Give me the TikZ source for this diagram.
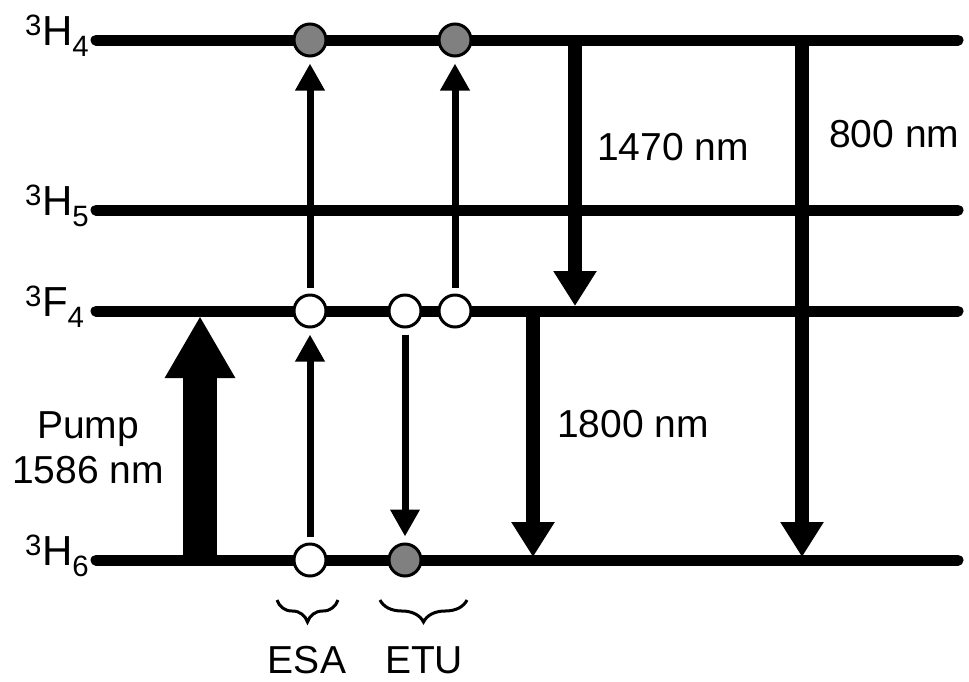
\documentclass[tikz,border=0pt]{standalone}
\usepackage{fontspec}
\setmainfont{Liberation Sans}
\usetikzlibrary{arrows.meta, positioning, decorations.pathreplacing}
\definecolor{popgray}{RGB}{128,128,128}
\tikzset{
  level/.style={line width=11pt, line cap=round},
  lvlname/.style={anchor=base west, inner sep=0pt, font=\fontsize{42}{46}\selectfont},
  lbl/.style={anchor=base west, inner sep=0pt, font=\fontsize{39}{45}\selectfont},
  ion/.style={circle, draw, line width=3pt, fill=white, minimum size=32pt, inner sep=0pt},
  excited/.style={ion, fill=popgray},
  thinarrow/.style={-{Triangle[width=28pt,length=27pt]}, line width=7pt,
    shorten <=6pt, shorten >=6pt},
  emit/.style={-{Triangle[width=41pt,length=35pt]}, line width=14pt},
  pumparrow/.style={-{Triangle[width=66pt,length=62pt]}, line width=34pt},
  grp/.style={decorate, decoration={brace, amplitude=22pt}, line width=3pt}
}
\begin{document}
\begin{tikzpicture}[x=1pt, y=-1pt]
  \useasboundingbox (0,0) rectangle (969,681);
  % energy levels
  \coordinate (H4) at (96,40);  \coordinate (H4e) at (958,40);
  \coordinate (H5) at (96,210); \coordinate (H5e) at (958,210);
  \coordinate (F4) at (96,311); \coordinate (F4e) at (958,311);
  \coordinate (H6) at (96,560); \coordinate (H6e) at (958,560);
  \foreach \lv in {H4,H5,F4,H6}
    \draw[level] (\lv) -- (\lv e);
  \node[lvlname] (nH4) at (25,45)  {\textsuperscript{3}H\textsubscript{4}};
  \node[lvlname] (nH5) at (25,215) {\textsuperscript{3}H\textsubscript{5}};
  \node[lvlname] (nF4) at (25,316) {\textsuperscript{3}F\textsubscript{4}};
  \node[lvlname] (nH6) at (25,565) {\textsuperscript{3}H\textsubscript{6}};

  % pump
  \coordinate (pumpA) at (200,560);
  \coordinate (pumpB) at (200,316);
  \draw[pumparrow] (pumpA) -- (pumpB);
  \node[font=\fontsize{39}{45}\selectfont, align=center, inner sep=0pt,
    anchor=base] (pump) at (88,483) {Pump\\1586 nm};

  % radiative transitions
  \coordinate (s1470) at (575,40);  \coordinate (e1470) at (575,306);
  \coordinate (s1800) at (533,311); \coordinate (e1800) at (533,557);
  \coordinate (s800)  at (802,40);  \coordinate (e800)  at (802,557);
  \draw[emit] (s1470) -- (e1470);
  \draw[emit] (s1800) -- (e1800);
  \draw[emit] (s800) -- (e800);
  \node[lbl] (l1470) at (597,160) {1470 nm};
  \node[lbl] (l800)  at (829,147) {800 nm};
  \node[lbl] (l1800) at (557,437) {1800 nm};

  % ESA and ETU ions
  \node[ion]     (esaG) at (310,560) {};
  \node[ion]     (esaM) at (310,311) {};
  \node[excited] (esaT) at (310,40)  {};
  \node[ion]     (etuA) at (405,311) {};
  \node[excited] (etuB) at (405,560) {};
  \node[ion]     (etuC) at (455,311) {};
  \node[excited] (etuD) at (455,40)  {};
  \draw[thinarrow] (esaG.north) -- (esaM.south);
  \draw[thinarrow] (esaM.north) -- (esaT.south);
  \draw[thinarrow] (etuA.south) -- (etuB.north);
  \draw[thinarrow] (etuC.north) -- (etuD.south);

  % process labels
  \coordinate (bEsaR) at (338,600); \coordinate (bEsaL) at (277,600);
  \coordinate (bEtuR) at (467,600); \coordinate (bEtuL) at (380,600);
  \draw[grp] (bEsaR) -- (bEsaL);
  \draw[grp] (bEtuR) -- (bEtuL);
  \node[font=\fontsize{39}{45}\selectfont, anchor=base, inner sep=0pt] (esa) at (307,673) {ESA};
  \node[font=\fontsize{39}{45}\selectfont, anchor=base, inner sep=0pt] (etu) at (424,673) {ETU};
\end{tikzpicture}
\end{document}
